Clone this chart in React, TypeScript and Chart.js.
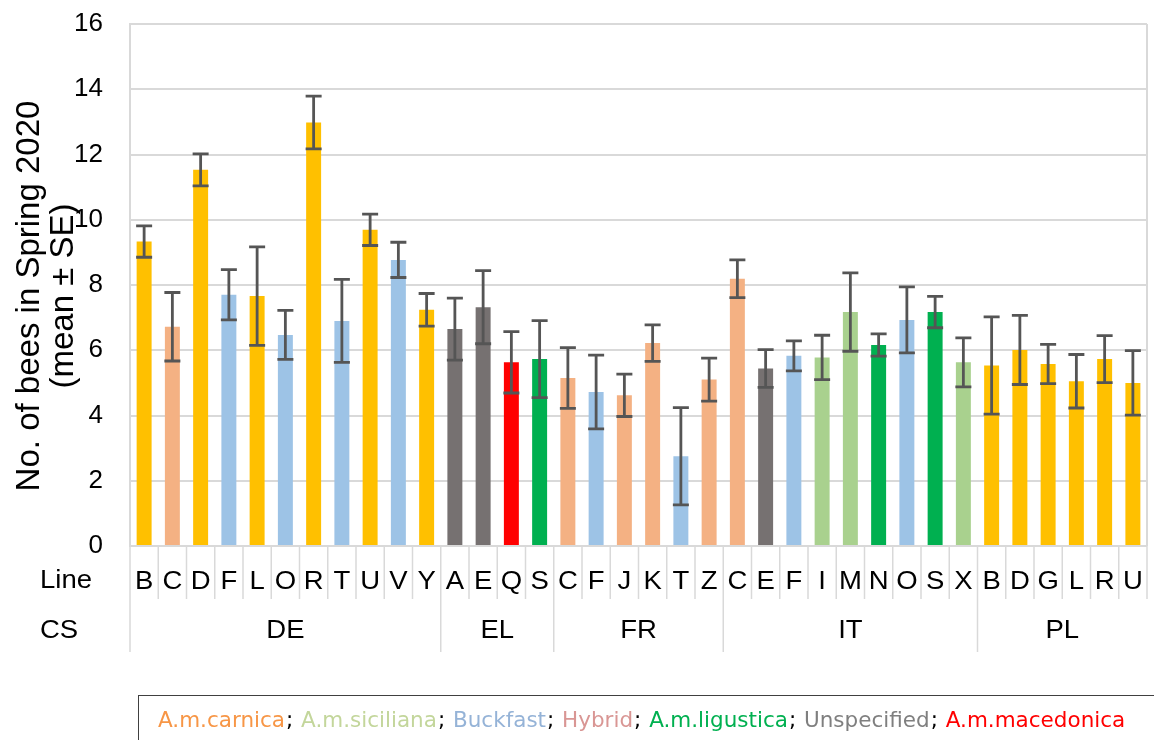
import React, { useEffect, useRef } from "react";
import { Chart, registerables } from "chart.js";

Chart.register(...registerables);

const lines = ["B","C","D","F","L","O","R","T","U","V","Y","A","E","Q","S","C","F","J","K","T","Z","C","E","F","I","M","N","O","S","X","B","D","G","L","R","U"];
const countries = ["DE","DE","DE","DE","DE","DE","DE","DE","DE","DE","DE","EL","EL","EL","EL","FR","FR","FR","FR","FR","FR","IT","IT","IT","IT","IT","IT","IT","IT","IT","PL","PL","PL","PL","PL","PL"];
const means = [9.33,6.72,11.53,7.70,7.66,6.47,12.98,6.90,9.69,8.77,7.24, 6.65,7.32,5.63,5.73, 5.15,4.72,4.62,6.22,2.75,5.10, 8.19,5.44,5.83,5.78,7.17,6.16,6.93,7.17,5.63, 5.53,6.01,5.58,5.05,5.73,5.00];
const ses = [0.48,1.05,0.49,0.77,1.51,0.75,0.81,1.27,0.48,0.54,0.50, 0.95,1.12,0.94,1.18, 0.93,1.13,0.65,0.56,1.49,0.66, 0.58,0.58,0.46,0.68,1.20,0.34,1.01,0.48,0.75, 1.49,1.06,0.60,0.82,0.72,0.99];
const barGroups = ["gold","salmon","gold","blue","gold","blue","gold","blue","gold","blue","gold", "gray","gray","red","green", "salmon","blue","salmon","salmon","blue","salmon", "salmon","gray","blue","lightgreen","lightgreen","green","blue","green","lightgreen", "gold","gold","gold","gold","gold","gold"];
const groupColors: Record<string, string> = {
  gold: "#FFC000",
  salmon: "#F4B183",
  blue: "#9DC3E6",
  gray: "#767171",
  red: "#FF0000",
  green: "#00B050",
  lightgreen: "#A9D18E",
};
const yTicks = [0, 2, 4, 6, 8, 10, 12, 14, 16];
const legendNames = ["A.m.carnica", "A.m.siciliana", "Buckfast", "Hybrid", "A.m.ligustica", "Unspecified", "A.m.macedonica"];
const legendColors = ["#F79646", "#C3D69B", "#95B3D7", "#D99694", "#00B050", "#7F7F7F", "#FF0000"];
const yTitle = ["No. of bees in Spring 2020", "(mean ± SE)"];

const FONT = "'Liberation Sans', Arial, sans-serif";
const GRID = "#d9d9d9";
const STRETCH = 1.1;

function wideText(ctx: CanvasRenderingContext2D, text: string, x: number, y: number, align: "left" | "center") {
  ctx.save();
  ctx.translate(x, y);
  ctx.scale(STRETCH, 1);
  ctx.textAlign = align;
  ctx.fillText(text, 0, 0);
  ctx.restore();
}

const overlay = {
  id: "overlay",
  afterDraw(chart: any) {
    const ctx = chart.ctx as CanvasRenderingContext2D;
    const xs = chart.scales.x;
    const ys = chart.scales.y;
    const area = chart.chartArea;
    ctx.save();

    // right border
    ctx.strokeStyle = GRID;
    ctx.lineWidth = 2;
    ctx.beginPath();
    ctx.moveTo(area.right, area.top);
    ctx.lineTo(area.right, area.bottom);
    ctx.stroke();

    // error bars
    ctx.strokeStyle = "#555555";
    ctx.lineWidth = 2.8;
    means.forEach((m, i) => {
      const x = xs.getPixelForValue(i);
      const yt = ys.getPixelForValue(m + ses[i]);
      const yb = ys.getPixelForValue(m - ses[i]);
      ctx.beginPath();
      ctx.moveTo(x, yt);
      ctx.lineTo(x, yb);
      ctx.moveTo(x - 8, yt);
      ctx.lineTo(x + 8, yt);
      ctx.moveTo(x - 8, yb);
      ctx.lineTo(x + 8, yb);
      ctx.stroke();
    });

    // category separators
    const n = lines.length;
    const boundary = (i: number) => {
      if (i === 0) return area.left;
      if (i === n) return area.right;
      return (xs.getPixelForValue(i - 1) + xs.getPixelForValue(i)) / 2;
    };
    ctx.strokeStyle = GRID;
    ctx.lineWidth = 1.5;
    for (let i = 0; i <= n; i++) {
      const isGroup = i === 0 || (i < n && countries[i] !== countries[i - 1]);
      const x = boundary(i);
      ctx.beginPath();
      ctx.moveTo(x, area.bottom);
      ctx.lineTo(x, isGroup ? 652 : 599);
      ctx.stroke();
    }

    // letters
    ctx.fillStyle = "#000";
    ctx.font = `25px ${FONT}`;
    ctx.textBaseline = "alphabetic";
    lines.forEach((l, i) => {
      wideText(ctx, l, xs.getPixelForValue(i), 589, "center");
    });
    // group labels
    let start = 0;
    for (let i = 1; i <= n; i++) {
      if (i === n || countries[i] !== countries[start]) {
        const cx = (boundary(start) + boundary(i)) / 2;
        wideText(ctx, countries[start], cx, 638, "center");
        start = i;
      }
    }
    wideText(ctx, "Line", 40, 588, "left");
    wideText(ctx, "CS", 40, 638, "left");

    // y title
    ctx.save();
    ctx.translate(0, 296);
    ctx.rotate(-Math.PI / 2);
    ctx.font = `33px ${FONT}`;
    ctx.textAlign = "center";
    ctx.textBaseline = "middle";
    ctx.fillText(yTitle[0], 0, 30);
    ctx.fillText(yTitle[1], 0, 64);
    ctx.restore();

    // legend box
    ctx.strokeStyle = "#404040";
    ctx.lineWidth = 1;
    ctx.strokeRect(138.5, 695.5, 1100, 100);
    ctx.font = "21.5px 'DejaVu Sans', Verdana, sans-serif";
    ctx.textAlign = "left";
    ctx.textBaseline = "alphabetic";
    let lx = 158;
    legendNames.forEach((name, i) => {
      ctx.fillStyle = legendColors[i];
      ctx.fillText(name, lx, 727);
      lx += ctx.measureText(name).width;
      if (i < legendNames.length - 1) {
        ctx.fillStyle = "#000";
        ctx.fillText(";", lx + 1, 727);
        lx += ctx.measureText("; ").width + 2;
      }
    });
    ctx.restore();
  },
};

export default function App() {
  const ref = useRef<HTMLCanvasElement>(null);
  useEffect(() => {
    document.body.style.margin = "0";
    const chart = new Chart(ref.current!, {
      type: "bar",
      data: {
        labels: lines.map((l, i) => `${countries[i]}-${l}`),
        datasets: [
          {
            data: means,
            backgroundColor: barGroups.map((g) => groupColors[g]),
            barPercentage: 0.53,
            categoryPercentage: 1,
          },
        ],
      },
      options: {
        animation: false,
        responsive: false,
        layout: { padding: { top: 24, right: 7, bottom: 194, left: 0 } },
        plugins: { legend: { display: false }, tooltip: { enabled: false } },
        scales: {
          x: { display: false },
          y: {
            min: 0,
            max: 16,
            afterFit(scale: any) {
              scale.width = 130;
              scale.paddingTop = 0;
              scale.paddingBottom = 0;
            },
            afterBuildTicks(scale: any) {
              scale.ticks = yTicks.map((v) => ({ value: v }));
            },
            grid: { color: GRID, lineWidth: 2, drawTicks: false },
            border: { color: GRID, width: 2 },
            ticks: {
              padding: 27,
              color: "#000",
              font: { family: FONT, size: 26 },
            },
          },
        },
      },
      plugins: [overlay],
    });
    return () => chart.destroy();
  }, []);
  return (
    <div style={{ width: 1154, height: 740 }}>
      <canvas ref={ref} width={1154} height={740} />
    </div>
  );
}
